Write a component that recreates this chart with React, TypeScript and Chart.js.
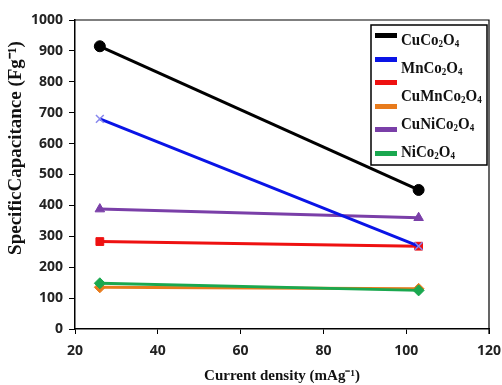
import React, { useEffect, useRef } from "react";
import { Chart, registerables } from "chart.js";
Chart.register(...registerables);

const currentDensity = [26, 103];
const seriesNames = ["CuCo2O4", "MnCo2O4", "CuMnCo2O4", "", "CuNiCo2O4", "NiCo2O4"];
const cuCo = [915, 450];
const mnCo = [680, 268];
const cuMnCoRed = [283, 268];
const cuMnCoOrange = [135, 130];
const cuNiCo = [388, 360];
const niCo = [148, 125];
const xTicks = [20, 40, 60, 80, 100, 120];
const yTicks = [0, 100, 200, 300, 400, 500, 600, 700, 800, 900, 1000];

const legendTexts = ["CuCo2O4", "MnCo2O4", "CuMnCo2O4", "CuNiCo2O4", "NiCo2O4"];
const yTitle = "SpecificCapacitance (Fg⁻¹)";

function drawChem(ctx: CanvasRenderingContext2D, s: string, x: number, y: number, size: number) {
  let cx = x;
  const parts = s.match(/(\d+|\D+)/g) || [];
  for (const p of parts) {
    const sub = /\d/.test(p);
    ctx.font = `bold ${sub ? Math.round(size * 0.62) : size}px 'Liberation Serif', serif`;
    ctx.fillText(p, cx, sub ? y + size * 0.22 : y);
    cx += ctx.measureText(p).width;
  }
}

const frameAndLegend = {
  id: "frameAndLegend",
  afterDraw(chart: any) {
    const { ctx, chartArea } = chart;
    ctx.save();
    ctx.strokeStyle = "#000";
    ctx.lineWidth = 1.2;
    ctx.beginPath();
    ctx.moveTo(chartArea.left, chartArea.top);
    ctx.lineTo(chartArea.right, chartArea.top);
    ctx.lineTo(chartArea.right, chartArea.bottom + 5);
    ctx.stroke();
    // y title
    ctx.save();
    ctx.translate(16, 148);
    ctx.rotate(-Math.PI / 2);
    ctx.fillStyle = "#111";
    ctx.textAlign = "center";
    ctx.textBaseline = "middle";
    ctx.font = "bold 19px 'Liberation Serif', serif";
    ctx.fillText(yTitle, 0, 0);
    ctx.restore();
    // legend box
    const bx = 371, by = 25, bw = 116, bh = 140;
    ctx.fillStyle = "#fff";
    ctx.fillRect(bx, by, bw, bh);
    ctx.lineWidth = 1.5;
    ctx.strokeRect(bx, by, bw, bh);
    const lineYs = [35, 59, 82, 106, 129, 153];
    chart.data.datasets.forEach((ds: any, i: number) => {
      ctx.fillStyle = ds.borderColor;
      ctx.fillRect(375, lineYs[i] - 2, 22, 5);
    });
    const textYs = [41, 69, 97, 125, 153];
    ctx.fillStyle = "#111";
    ctx.textBaseline = "middle";
    legendTexts.forEach((t, i) => {
      ctx.save();
      ctx.translate(0, textYs[i]);
      ctx.scale(1, 1.15);
      drawChem(ctx, t, 401, 0, 15);
      ctx.restore();
    });
    ctx.restore();
  },
};

export default function App() {
  const ref = useRef<HTMLCanvasElement>(null);
  useEffect(() => {
    const colors = ["#000000", "#0a14e6", "#ee1111", "#e87b1c", "#7a3fa8", "#1aa84f"];
    const values = [cuCo, mnCo, cuMnCoRed, cuMnCoOrange, cuNiCo, niCo];
    const markers = ["circle", "crossRot", "rect", "rectRot", "triangle", "rectRot"];
    const datasets = values.map((vals, i) => ({
      label: seriesNames[i] || "series" + i,
      data: currentDensity.map((x, k) => ({ x, y: vals[k] })),
      borderColor: colors[i],
      backgroundColor: colors[i],
      borderWidth: 3,
      pointStyle: markers[i],
      pointRadius: 5.5,
      pointBorderWidth: i === 1 ? 1.5 : 1,
      pointBorderColor: i === 1 ? "#8888ee" : colors[i],
      showLine: true,
      order: i === 5 ? 0 : 1,
    }));
    const tickFont = { family: "'Open Sans', sans-serif", size: 14, weight: "bold" as any };
    const chart = new Chart(ref.current!, {
      type: "scatter",
      data: { datasets },
      options: {
        animation: false,
        responsive: false,
        layout: { padding: { top: 20, right: 13, left: 0, bottom: 0 } },
        plugins: { legend: { display: false }, tooltip: { enabled: false } },
        scales: {
          x: {
            type: "linear",
            min: 20,
            max: 120,
            afterBuildTicks: (s: any) => { s.ticks = xTicks.map((v) => ({ value: v })); },
            afterFit: (s: any) => { s.height = 56; s.paddingLeft = 0; s.paddingRight = 0; },
            grid: { drawOnChartArea: false, drawTicks: true, tickLength: 5, color: "#000" },
            border: { display: true, color: "#000", width: 1.5 },
            ticks: { color: "#222", font: tickFont, padding: 9, callback: (v: any) => String(v) },
            title: {
              display: true,
              text: "Current density (mAg⁻¹)",
              color: "#111",
              font: { family: "'Liberation Serif', serif", size: 15, weight: "bold" },
              padding: { top: 0, bottom: 0 },
            },
          },
          y: {
            min: 0,
            max: 1000,
            afterBuildTicks: (s: any) => { s.ticks = yTicks.map((v) => ({ value: v })); },
            afterFit: (s: any) => { s.width = 75; s.paddingTop = 0; s.paddingBottom = 0; },
            grid: { drawOnChartArea: false, drawTicks: true, tickLength: 6, color: "#000" },
            border: { display: true, color: "#000", width: 1.5 },
            ticks: { color: "#222", font: tickFont, padding: 6, callback: (v: any) => String(v) },
            title: { display: false },
          },
        },
      },
      plugins: [frameAndLegend],
    });
    return () => chart.destroy();
  }, []);
  return (
    <div style={{ position: "fixed", left: 0, top: 0, width: 502, height: 385, background: "#fff" }}>
      <canvas ref={ref} width={502} height={385} style={{ display: "block" }} />
    </div>
  );
}
